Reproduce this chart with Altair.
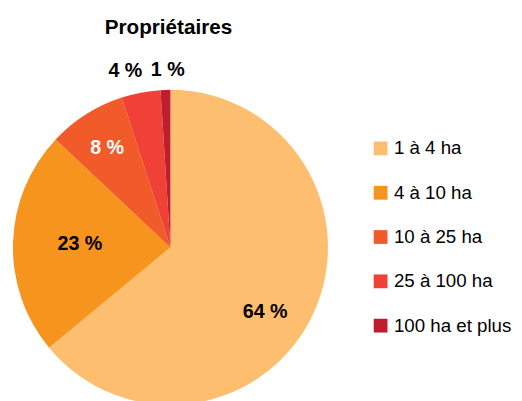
import altair as alt
import pandas as pd

title_text = "Propriétaires"
categories = ["1 à 4 ha", "4 à 10 ha", "10 à 25 ha", "25 à 100 ha", "100 ha et plus"]
shares = [64, 23, 8, 4, 1]
labels = ["64 %", "23 %", "8 %", "4 %", "1 %"]
colors = ["#FDBF6F", "#F7941D", "#F15A29", "#EF4136", "#BE1E2D"]

df = pd.DataFrame({"cat": categories, "share": shares, "label": labels, "idx": list(range(len(categories)))})

FONT = "Liberation Sans"

base = alt.Chart(df).encode(
    theta=alt.Theta("share:Q", stack=True),
    order=alt.Order("idx:Q"),
)

pie = base.mark_arc(outerRadius=160).encode(
    color=alt.Color(
        "cat:N",
        scale=alt.Scale(domain=categories, range=colors),
        sort=categories,
        legend=alt.Legend(
            title=None,
            orient="none",
            legendX=366,
            legendY=50,
            symbolType="square",
            symbolSize=196,
            symbolStrokeWidth=0,
            labelFontSize=19,
            labelFont=FONT,
            labelColor="#000000",
            labelOffset=4,
            rowPadding=25,
            padding=0,
            labelLimit=300,
        ),
    )
)


def lab(cat, r, dx, dy, color):
    return base.mark_text(
        radius=r, dx=dx, dy=dy, fontSize=20, fontWeight="bold", font=FONT, color=color
    ).encode(text=alt.condition(alt.datum.cat == cat, "label:N", alt.value("")))


title = alt.Chart(pd.DataFrame({"t": [title_text]})).mark_text(
    fontSize=21, fontWeight="bold", font=FONT, color="#000000", baseline="middle", align="center"
).encode(text="t:N", x=alt.value(160), y=alt.value(-63))

chart = alt.layer(
    pie,
    lab("1 à 4 ha", 113, -6, 18, "#000000"),
    lab("4 à 10 ha", 92, 0, 0, "#000000"),
    lab("10 à 25 ha", 120, 0, 0, "#FFFFFF"),
    lab("25 à 100 ha", 180, -12, -2, "#000000"),
    lab("100 ha et plus", 180, 3, 0, "#000000"),
    title,
).properties(
    width=324,
    height=320,
    autosize=alt.AutoSizeParams(type="none"),
    padding={"left": 3, "top": 80, "right": 187, "bottom": 0},
).configure_view(stroke=None)

chart.save("out.html", embed_options={"renderer": "svg", "actions": False})
